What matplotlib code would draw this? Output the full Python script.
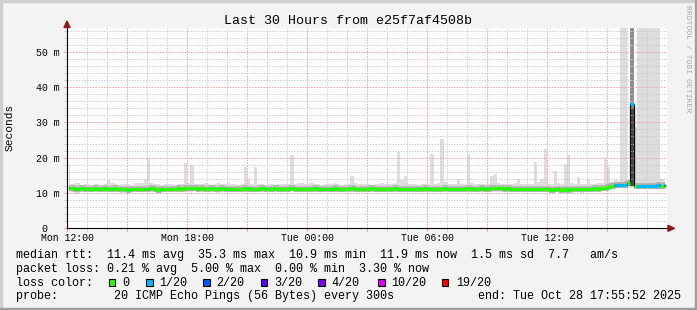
import numpy as np
import matplotlib
matplotlib.use("Agg")
import matplotlib.pyplot as plt
from matplotlib.patches import Rectangle, Polygon
from matplotlib.ticker import FixedLocator, FuncFormatter

W, H = 697, 310
plt.rcParams['font.family'] = ['Liberation Mono', 'DejaVu Sans Mono']

# 10 minute bins from Mon 12:00 to Tue 18:00 (values in ms)
smoke_hi = [
    17.9, 12.6, 12.9, 12.8, 12.3, 12.4, 12.5, 12.3, 12.4, 12.6, 12.3, 12.5,
    13.5, 12.7, 12.4, 12.3, 12.5, 12.4, 12.6, 12.3, 12.8, 12.9, 12.7, 13.9,
    19.6, 12.8, 12.6, 12.4, 12.3, 12.5, 12.4, 12.6, 12.3, 12.5, 12.4, 18.5,
    12.9, 17.9, 12.6, 12.4, 12.5, 12.7, 12.4, 12.3, 12.5, 12.8, 12.4, 12.6,
    12.9, 12.6, 12.4, 12.3, 12.5, 17.4, 13.9, 12.6, 17.3, 12.5, 12.4, 12.3,
    12.4, 12.6, 12.3, 12.5, 12.4, 12.6, 12.5, 20.8, 12.5, 12.8, 12.7, 12.4,
    12.6, 12.7, 12.4, 12.5, 12.3, 12.6, 12.4, 12.5, 12.7, 12.4, 12.3, 12.5,
    12.6, 14.8, 12.7, 12.4, 12.6, 12.5, 12.4, 12.3, 12.6, 12.5, 12.7, 12.4,
    12.5, 12.6, 12.8, 21.6, 13.6, 14.8, 12.5, 12.4, 12.6, 12.3, 12.5, 12.4,
    12.6, 21.0, 12.5, 12.7, 25.3, 13.0, 12.6, 12.4, 12.5, 13.9, 12.6, 12.5,
    21.0, 12.9, 12.6, 12.5, 12.4, 12.6, 12.5, 14.8, 15.4, 12.7, 12.5, 12.4,
    12.6, 12.5, 12.7, 13.9, 12.6, 12.5, 12.4, 12.6, 18.8, 13.0, 13.9, 22.4,
    12.6, 12.5, 16.1, 12.8, 12.6, 18.2, 20.7, 12.7, 12.5, 14.5, 12.6, 12.5,
    13.9, 12.6, 12.5, 12.7, 12.8, 19.7, 17.4, 13.0, 13.6, 13.4, 56.9, 56.9,
    13.5, 56.9, 28.7, 56.9, 56.9, 56.9, 56.9, 56.9, 56.9, 56.9, 13.9, 13.0,
]
smoke_lo = [
    10.0, 10.2, 9.8, 9.8, 10.1, 10.3, 10.1, 10.2, 10.4, 10.1, 10.3, 10.2,
    10.3, 10.1, 10.4, 10.2, 10.0, 10.1, 10.3, 10.2, 10.4, 10.3, 10.1, 10.2,
    10.2, 10.4, 10.1, 10.0, 10.3, 10.2, 10.1, 10.3, 10.4, 10.2, 10.3, 10.1,
    10.3, 10.2, 10.4, 10.1, 10.3, 10.2, 10.4, 10.3, 10.2, 10.0, 10.2, 10.3,
    10.2, 10.3, 10.1, 10.2, 10.4, 10.3, 10.2, 10.1, 10.3, 10.4, 10.2, 10.3,
    10.3, 10.2, 10.4, 10.2, 10.1, 10.3, 10.2, 10.4, 10.3, 10.2, 10.4, 10.1,
    10.2, 10.4, 10.3, 10.1, 10.2, 10.3, 10.4, 10.2, 10.3, 10.1, 10.2, 10.4,
    10.3, 10.2, 10.1, 10.3, 10.4, 10.2, 10.3, 10.2, 10.1, 10.3, 10.4, 10.2,
    10.2, 10.3, 10.4, 10.2, 10.1, 10.3, 10.2, 10.4, 10.3, 10.2, 10.1, 10.3,
    10.4, 10.2, 10.3, 10.1, 10.2, 10.4, 10.3, 10.2, 10.3, 10.4, 10.2, 10.3,
    10.2, 10.3, 10.1, 10.4, 10.3, 10.2, 10.4, 10.3, 10.2, 10.1, 10.3, 10.2,
    10.3, 10.1, 10.2, 10.3, 10.4, 10.2, 10.3, 10.1, 10.2, 10.4, 10.3, 10.2,
    10.2, 10.4, 10.3, 10.1, 10.2, 10.3, 10.1, 10.0, 10.2, 10.1, 10.0, 10.2,
    10.2, 10.3, 10.4, 10.5, 10.6, 10.7, 10.8, 11.0, 11.2, 11.3, 11.3, 11.4,
    11.6, 11.5, 11.2, 11.1, 11.1, 11.2, 11.1, 11.1, 11.2, 11.1, 11.1, 11.2,
]
median_rtt = [
    11.3, 11.4, 11.2, 11.1, 11.3, 11.2, 11.0, 11.2, 11.3, 11.1, 11.2, 11.4,
    11.2, 11.1, 11.3, 11.2, 11.1, 11.0, 10.9, 11.0, 11.1, 11.2, 11.0, 11.1,
    11.2, 11.3, 11.1, 10.9, 11.0, 11.2, 11.1, 11.0, 11.2, 11.3, 11.2, 11.4,
    11.5, 11.4, 11.3, 11.2, 11.3, 11.1, 11.2, 11.3, 11.2, 11.1, 11.3, 11.2,
    11.1, 11.2, 11.0, 11.1, 11.2, 11.3, 11.1, 11.0, 11.2, 11.1, 11.3, 11.2,
    11.2, 11.1, 11.3, 11.2, 11.0, 11.1, 11.2, 11.3, 11.2, 11.1, 11.2, 11.0,
    11.1, 11.2, 11.3, 11.1, 11.2, 11.0, 11.1, 11.2, 11.3, 11.2, 11.1, 11.0,
    11.2, 11.3, 11.2, 11.1, 11.0, 11.2, 11.1, 11.3, 11.2, 11.1, 11.0, 11.1,
    11.2, 11.1, 11.3, 11.2, 11.0, 11.1, 11.2, 11.1, 11.0, 11.2, 11.1, 11.3,
    11.2, 11.1, 11.0, 11.2, 11.1, 11.3, 11.2, 11.1, 11.2, 11.0, 11.1, 11.2,
    11.3, 11.2, 11.1, 11.2, 11.3, 11.2, 11.1, 11.3, 11.4, 11.5, 11.3, 11.2,
    11.3, 11.2, 11.1, 11.0, 11.1, 11.2, 11.0, 11.1, 11.2, 11.1, 11.0, 11.2,
    11.1, 10.9, 11.0, 11.1, 10.9, 11.0, 10.8, 11.0, 11.1, 11.0, 11.1, 11.2,
    11.1, 11.2, 11.3, 11.2, 11.4, 11.5, 11.7, 11.8, 12.1, 12.2, 12.1, 12.3,
    12.9, 35.2, 11.9, 12.0, 11.9, 12.0, 12.0, 11.9, 12.0, 12.1, 12.0, 12.1,
]
# loss level per bin, given as change points
loss_start_bin = [0, 164, 168, 169, 170, 171, 178, 179]
loss_level = [0, 1, 0, 1, 0, 1, 0, 1]

# dense smoke in the outage bin
dense_bin = [169]
dense_lo = [12.0]
dense_hi = [56.9]
denser_hi = [34.0]

loss_colors = ['#26ff00', '#00b8ff', '#0059ff', '#5e00ff', '#7e00ff', '#dd00ff', '#ff0000']
loss_labels = ['0', '1/20', '2/20', '3/20', '4/20', '10/20', '19/20']
x_labels = ['Mon 12:00', 'Mon 18:00', 'Tue 00:00', 'Tue 06:00', 'Tue 12:00']
y_labels = ['0  ', '10 m', '20 m', '30 m', '40 m', '50 m']

nbins = len(median_rtt)
t = np.arange(nbins) / 6 + 1 / 12
loss = np.repeat(loss_level, np.diff(loss_start_bin + [nbins]))
med = np.array(median_rtt)
ymax = 200 / 3.52

fig = plt.figure(figsize=(W / 100, H / 100), dpi=100, facecolor='#f3f3f3')
ax = fig.add_axes([67 / W, (H - 228) / H, 600 / W, 200 / H])
ax.set_facecolor('white')
ax.set_xlim(0, 30)
ax.set_ylim(0, ymax)

# smoke
ax.fill_between(t, smoke_lo, smoke_hi, step='mid', color='#dddddd', lw=0, zorder=1)
ax.bar(t[dense_bin], np.array(dense_hi) - dense_lo, bottom=dense_lo, width=1 / 6,
       color='#8e8e8e', lw=0, zorder=1)
ax.bar(t[dense_bin], np.array(denser_hi) - dense_lo, bottom=dense_lo, width=1 / 6,
       color='#4c4c4c', lw=0, zorder=1)
# darker smoke hugging the median (left out in the outage bin)
ax.plot(t, np.where(med < 20, med, np.nan), drawstyle='steps-mid', color='#b0b0b0',
        lw=4.2, zorder=1.2, solid_capstyle='butt')

# median coloured by loss
ax.plot(t, med, drawstyle='steps-mid', color='black', lw=0.9, zorder=3)
for lvl in np.unique(loss):
    ax.plot(t, np.where(loss == lvl, med, np.nan), drawstyle='steps-mid',
            color=loss_colors[lvl], lw=2.3, zorder=4, solid_capstyle='butt')

# grid
ax.xaxis.set_major_locator(FixedLocator(list(range(0, 30, 3))))
ax.xaxis.set_minor_locator(FixedLocator([h for h in range(1, 30) if h % 3]))
ax.xaxis.set_major_formatter(FuncFormatter(
    lambda v, p: x_labels[int(v) // 6] if int(v) % 6 == 0 else ''))
ax.yaxis.set_major_locator(FixedLocator([0, 10, 20, 30, 40, 50]))
ax.yaxis.set_minor_locator(FixedLocator([v for v in range(2, 57, 2) if v % 10]))
ax.yaxis.set_major_formatter(FuncFormatter(lambda v, p: y_labels[int(round(v)) // 10]))
ax.set_axisbelow(False)
ax.grid(which='major', color='#f0a0a0', lw=0.72, ls=(0, (1.4, 1.4)))
ax.grid(which='minor', color='#cccccc', lw=0.72, ls=(0, (1.4, 1.4)))
ax.tick_params(which='major', length=2, width=0.72, color='#e09090', labelsize=7.1,
               labelcolor='black')
ax.tick_params(which='minor', length=2, width=0.72, color='#c8c8c8')
ax.tick_params(axis='x', pad=1.7)
ax.tick_params(axis='y', pad=3.4)
for s in ax.spines.values():
    s.set_visible(False)

# axes with arrows
ax.plot([0, 0], [0, 1 + 5 / 200], transform=ax.transAxes, color='black', lw=0.8,
        clip_on=False, zorder=5)
ax.plot([0, 1 + 6 / 600], [0, 0], transform=ax.transAxes, color='black', lw=0.8,
        clip_on=False, zorder=5)
arrow_c = '#8b1a1a'
fig.add_artist(Polygon([(64 / W, 1 - 27.5 / H), (70 / W, 1 - 27.5 / H), (67 / W, 1 - 21 / H)],
                       closed=True, color=arrow_c, transform=fig.transFigure))
fig.add_artist(Polygon([(668 / W, 1 - 225.3 / H), (668 / W, 1 - 231.3 / H), (674.5 / W, 1 - 228.3 / H)],
                       closed=True, color=arrow_c, transform=fig.transFigure))


def ftext(x, y, s, **kw):
    return fig.text(x / W, 1 - y / H, s, **kw)


ftext(348.5, 24, 'Last 30 Hours from e25f7af4508b', ha='center', va='baseline', fontsize=9.6)
ftext(10, 127, 'Seconds', rotation=90, ha='center', va='center', fontsize=8.1)
ftext(687.5, 5, 'RRDTOOL / TOBI OETIKER', rotation=270, ha='center', va='top',
      fontsize=5.9, color='#a8a8a8')

lx = 16
fs = 8.5
ftext(lx, 258, 'median rtt:  11.4 ms avg  35.3 ms max  10.9 ms min  11.9 ms now  1.5 ms sd  7.7   am/s',
      va='baseline', fontsize=fs)
ftext(lx, 271.8, 'packet loss: 0.21 % avg  5.00 % max  0.00 % min  3.30 % now',
      va='baseline', fontsize=fs)
ftext(lx, 285.6, 'loss color:', va='baseline', fontsize=fs)
box_x = [108.7, 146, 203.3, 260.7, 318.3, 378.3, 441.7]
text_x = [122.5, 159.2, 216.5, 274.5, 331.7, 391, 456]
for bx, tx, c, lab in zip(box_x, text_x, loss_colors, loss_labels):
    fig.add_artist(Rectangle((bx / W, 1 - 286 / H), 6.7 / W, 6.7 / H, facecolor=c,
                             edgecolor='black', lw=0.8, transform=fig.transFigure))
    ftext(tx, 285.6, lab, va='baseline', fontsize=fs)
ftext(lx, 299.4, 'probe:        20 ICMP Echo Pings (56 Bytes) every 300s',
      va='baseline', fontsize=fs)
ftext(477.5, 299.4, 'end: Tue Oct 28 17:55:52 2025', va='baseline', fontsize=fs)

# 3d frame
fig.add_artist(Rectangle((0, 1 - 2 / H), 1, 2 / H, color='#cfcfcf', transform=fig.transFigure))
fig.add_artist(Rectangle((0, 0), 2 / W, 1, color='#cfcfcf', transform=fig.transFigure))
fig.add_artist(Rectangle((0, 0), 1, 2 / H, color='#9e9e9e', transform=fig.transFigure))
fig.add_artist(Rectangle((1 - 2 / W, 0), 2 / W, 1, color='#9e9e9e', transform=fig.transFigure))

fig.savefig('out.png', dpi=100, facecolor=fig.get_facecolor())
